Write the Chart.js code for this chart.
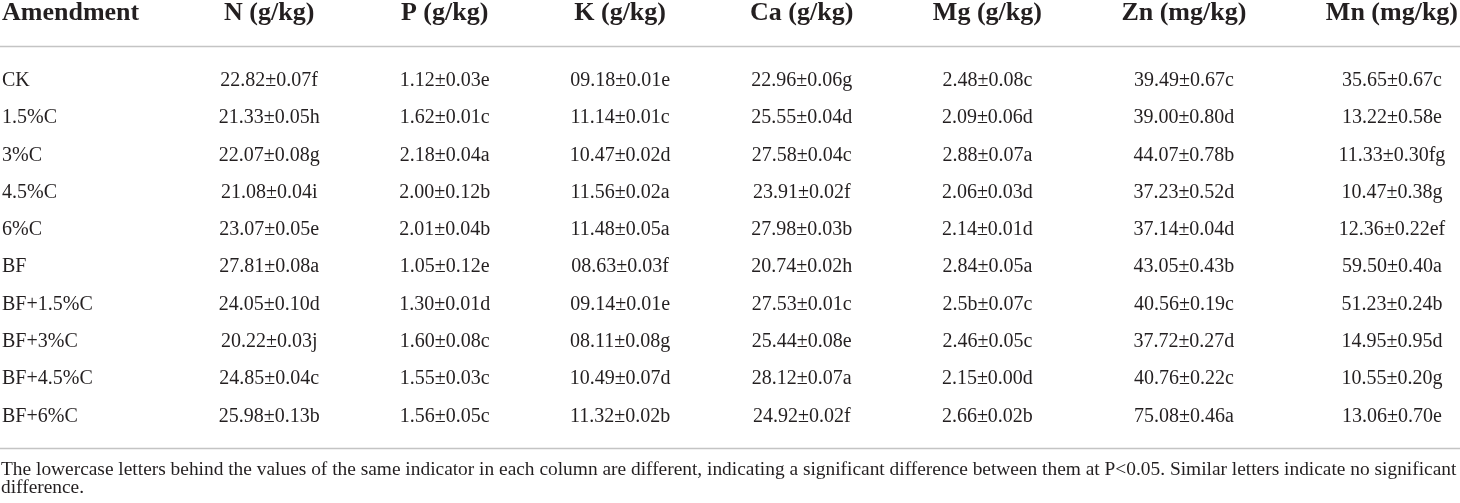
<!DOCTYPE html>
<html>
<head>
<meta charset="utf-8">
<title>Amendment nutrient table</title>
<script src="https://cdn.jsdelivr.net/npm/chart.js@4.4.1/dist/chart.umd.min.js"></script>
<style>
  html, body { margin: 0; padding: 0; background: #ffffff; }
  #wrap { width: 1460px; height: 503px; }
</style>
</head>
<body>
<div id="wrap"><canvas id="tableChart" width="1460" height="503"></canvas></div>
<script>
// table data
var amendments = ['CK', '1.5%C', '3%C', '4.5%C', '6%C', 'BF', 'BF+1.5%C', 'BF+3%C', 'BF+4.5%C', 'BF+6%C'];
var columnHeaders = ['Amendment', 'N (g/kg)', 'P (g/kg)', 'K (g/kg)', 'Ca (g/kg)', 'Mg (g/kg)', 'Zn (mg/kg)', 'Mn (mg/kg)'];

var nValues  = ['22.82±0.07f', '21.33±0.05h', '22.07±0.08g', '21.08±0.04i', '23.07±0.05e', '27.81±0.08a', '24.05±0.10d', '20.22±0.03j', '24.85±0.04c', '25.98±0.13b'];
var pValues  = ['1.12±0.03e', '1.62±0.01c', '2.18±0.04a', '2.00±0.12b', '2.01±0.04b', '1.05±0.12e', '1.30±0.01d', '1.60±0.08c', '1.55±0.03c', '1.56±0.05c'];
var kValues  = ['09.18±0.01e', '11.14±0.01c', '10.47±0.02d', '11.56±0.02a', '11.48±0.05a', '08.63±0.03f', '09.14±0.01e', '08.11±0.08g', '10.49±0.07d', '11.32±0.02b'];
var caValues = ['22.96±0.06g', '25.55±0.04d', '27.58±0.04c', '23.91±0.02f', '27.98±0.03b', '20.74±0.02h', '27.53±0.01c', '25.44±0.08e', '28.12±0.07a', '24.92±0.02f'];
var mgValues = ['2.48±0.08c', '2.09±0.06d', '2.88±0.07a', '2.06±0.03d', '2.14±0.01d', '2.84±0.05a', '2.5b±0.07c', '2.46±0.05c', '2.15±0.00d', '2.66±0.02b'];
var znValues = ['39.49±0.67c', '39.00±0.80d', '44.07±0.78b', '37.23±0.52d', '37.14±0.04d', '43.05±0.43b', '40.56±0.19c', '37.72±0.27d', '40.76±0.22c', '75.08±0.46a'];
var mnValues = ['35.65±0.67c', '13.22±0.58e', '11.33±0.30fg', '10.47±0.38g', '12.36±0.22ef', '59.50±0.40a', '51.23±0.24b', '14.95±0.95d', '10.55±0.20g', '13.06±0.70e'];

var footnoteLines = [
    'The lowercase letters behind the values of the same indicator in each column are different, indicating a significant difference between them at P<0.05. Similar letters indicate no significant',
    'difference.'
];

var valueColumns = [nValues, pValues, kValues, caValues, mgValues, znValues, mnValues];

// fonts and colours
var textColor = '#231f20';
var ruleColor = '#c4c4c4';
var headerFont = 'bold 26px "Liberation Serif", "Times New Roman", serif';
var bodyFont = '20px "Liberation Serif", "Times New Roman", serif';
var noteFont = '19.4px "Liberation Serif", "Times New Roman", serif';

var canvasWidth = 1460;
var tableLeft = 2;
var tableRight = 1458;

// work out column widths from the text, like an auto table layout
function layoutColumns() {
    var ctx = document.createElement('canvas').getContext('2d');
    var widths = [];
    for (var c = 0; c < columnHeaders.length; c++) {
        ctx.font = headerFont;
        var w = ctx.measureText(columnHeaders[c]).width;
        ctx.font = bodyFont;
        var cells = c === 0 ? amendments : valueColumns[c - 1];
        cells.forEach(function (t) {
            w = Math.max(w, ctx.measureText(t).width);
        });
        widths.push(w);
    }
    var total = widths.reduce(function (a, b) { return a + b; }, 0);
    var gap = (tableRight - tableLeft - total) / (widths.length - 1);
    var lefts = [];
    var x = tableLeft;
    for (var i = 0; i < widths.length; i++) {
        lefts.push(x);
        x += widths[i] + gap;
    }
    return { lefts: lefts, widths: widths };
}

var cols = layoutColumns();

// column 0 is left aligned, the others centred
function columnAnchor(c) {
    return c === 0 ? cols.lefts[0] : cols.lefts[c] + cols.widths[c] / 2;
}

var datasets = [];
for (var c = 0; c < columnHeaders.length; c++) {
    var cells = c === 0 ? amendments : valueColumns[c - 1];
    datasets.push({
        label: columnHeaders[c],
        data: amendments.map(function (name, j) {
            return { x: columnAnchor(c), y: name, text: cells[j] };
        }),
        pointRadius: 0,
        pointHoverRadius: 0,
        showLine: false
    });
}

// draws header, cells, rules and footnote
var tablePlugin = {
    id: 'tablePlugin',
    afterDatasetsDraw: function (chart) {
        var ctx = chart.ctx;
        var area = chart.chartArea;
        var xScale = chart.scales.x;
        var rowStep = chart.scales.y.getPixelForValue(1) - chart.scales.y.getPixelForValue(0);
        ctx.save();
        ctx.fillStyle = textColor;
        ctx.textBaseline = 'middle';

        // header row
        ctx.font = headerFont;
        var headerY = area.top - rowStep * 1.29;
        chart.data.datasets.forEach(function (ds, c) {
            ctx.textAlign = c === 0 ? 'left' : 'center';
            ctx.fillText(ds.label, xScale.getPixelForValue(ds.data[0].x), headerY);
        });

        // body cells
        ctx.font = bodyFont;
        chart.data.datasets.forEach(function (ds, c) {
            ctx.textAlign = c === 0 ? 'left' : 'center';
            var meta = chart.getDatasetMeta(c);
            meta.data.forEach(function (pt, j) {
                ctx.fillText(ds.data[j].text, pt.x, pt.y + 1);
            });
        });

        // rules
        ctx.strokeStyle = ruleColor;
        ctx.lineWidth = 1.5;
        var topRule = area.top - rowStep * 0.39;
        var bottomRule = area.bottom + rowStep * 0.39;
        [topRule, bottomRule].forEach(function (y) {
            ctx.beginPath();
            ctx.moveTo(0, y);
            ctx.lineTo(canvasWidth, y);
            ctx.stroke();
        });

        // footnote
        ctx.font = noteFont;
        ctx.textAlign = 'left';
        footnoteLines.forEach(function (line, i) {
            ctx.fillText(line, tableLeft - 1, bottomRule + 21 + i * 18);
        });
        ctx.restore();
    }
};

var chart = new Chart(document.getElementById('tableChart').getContext('2d'), {
    type: 'scatter',
    data: { datasets: datasets },
    options: {
        responsive: false,
        animation: false,
        events: [],
        layout: { padding: { top: 61, bottom: 69, left: 0, right: 0 } },
        plugins: {
            legend: { display: false },
            tooltip: { enabled: false },
            title: { display: false }
        },
        scales: {
            x: { type: 'linear', min: 0, max: canvasWidth, display: false },
            y: { type: 'category', labels: amendments, offset: true, display: false }
        }
    },
    plugins: [tablePlugin]
});
</script>
</body>
</html>
